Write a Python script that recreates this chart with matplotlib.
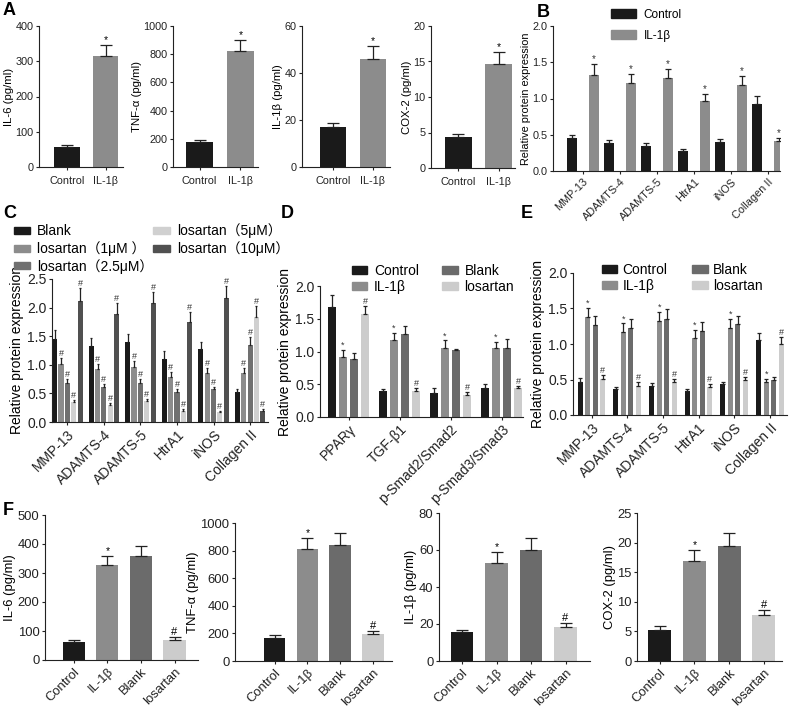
import numpy as np
import matplotlib
matplotlib.use("Agg")
import matplotlib.pyplot as plt
from matplotlib.patches import Patch
from matplotlib.ticker import FormatStrFormatter

plt.rcParams['font.family'] = ['Liberation Sans', 'DejaVu Sans', 'Noto Sans CJK SC']

W, H = 789, 710

# ---- data ----
# A
a_groups = ["Control", "IL-1β"]
a_il6 = [57, 315];      a_il6_err = [6, 30]
a_tnf = [175, 822];     a_tnf_err = [20, 80]
a_il1b = [17, 46];      a_il1b_err = [1.8, 5.5]
a_cox2 = [4.3, 14.7];   a_cox2_err = [0.5, 1.6]

# B
b_cats = ["MMP-13", "ADAMTS-4", "ADAMTS-5", "HtrA1", "iNOS", "Collagen II"]
b_ctrl = [0.45, 0.39, 0.35, 0.28, 0.40, 0.93]
b_ctrl_err = [0.05, 0.04, 0.04, 0.03, 0.04, 0.10]
b_il1b = [1.33, 1.21, 1.28, 0.96, 1.19, 0.42]
b_il1b_err = [0.14, 0.13, 0.13, 0.10, 0.12, 0.04]

# C
c_cats = b_cats
c_labels = ["Blank", "losartan（1μM ）", "losartan（2.5μM）", "losartan（5μM）", "losartan（10μM）"]
c_vals = [
    [1.45, 1.32, 1.39, 1.11, 1.27, 0.53],
    [1.02, 0.92, 0.97, 0.79, 0.86, 0.85],
    [0.68, 0.61, 0.69, 0.52, 0.57, 1.34],
    [0.35, 0.30, 0.36, 0.20, 0.17, 1.83],
    [2.12, 1.88, 2.08, 1.74, 2.17, 0.20],
]
c_errs = [
    [0.15, 0.14, 0.14, 0.13, 0.12, 0.05],
    [0.10, 0.09, 0.10, 0.08, 0.09, 0.09],
    [0.08, 0.06, 0.07, 0.06, 0.05, 0.14],
    [0.04, 0.03, 0.04, 0.02, 0.02, 0.20],
    [0.22, 0.20, 0.20, 0.18, 0.20, 0.03],
]

# D
d_cats = ["PPARγ", "TGF-β1", "p-Smad2/Smad2", "p-Smad3/Smad3"]
d_vals = [
    [1.68, 0.39, 0.37, 0.45],
    [0.92, 1.17, 1.05, 1.05],
    [0.89, 1.26, 1.02, 1.05],
    [1.57, 0.40, 0.34, 0.45],
]
d_errs = [
    [0.18, 0.04, 0.07, 0.06],
    [0.10, 0.12, 0.12, 0.10],
    [0.09, 0.13, 0.02, 0.14],
    [0.12, 0.04, 0.04, 0.02],
]

# E
e_cats = b_cats
e_vals = [
    [0.47, 0.36, 0.41, 0.34, 0.43, 1.05],
    [1.38, 1.17, 1.32, 1.09, 1.23, 0.46],
    [1.27, 1.23, 1.35, 1.19, 1.28, 0.49],
    [0.51, 0.41, 0.46, 0.39, 0.49, 1.00],
]
e_errs = [
    [0.05, 0.04, 0.04, 0.03, 0.04, 0.10],
    [0.13, 0.12, 0.13, 0.11, 0.12, 0.05],
    [0.12, 0.12, 0.14, 0.12, 0.12, 0.05],
    [0.05, 0.05, 0.05, 0.04, 0.05, 0.10],
]

# F
f_groups = ["Control", "IL-1β", "Blank", "losartan"]
f_il6 = [62, 328, 358, 70];       f_il6_err = [8, 32, 35, 8]
f_tnf = [168, 810, 840, 195];     f_tnf_err = [18, 80, 85, 20]
f_il1b = [15.5, 53, 60, 18.5];    f_il1b_err = [1.5, 6, 6.5, 2]
f_cox2 = [5.2, 16.9, 19.5, 7.7];  f_cox2_err = [0.7, 1.9, 2.2, 0.9]

four_labels = ["Control", "IL-1β", "Blank", "losartan"]
c_black = "#1a1a1a"
c_gray = "#8c8c8c"
c_dark = "#6b6b6b"
c_light = "#cccccc"
four_colors = [c_black, c_gray, c_dark, c_light]
c_colors = [c_black, c_gray, "#707070", "#d0d0d0", "#505050"]

fig = plt.figure(figsize=(W / 100, H / 100), dpi=100)


def add_ax(l, t, r, b):
    return fig.add_axes([l / W, 1 - b / H, (r - l) / W, (b - t) / H])


def style(ax, fs):
    for s in ["top", "right"]:
        ax.spines[s].set_visible(False)
    for s in ["left", "bottom"]:
        ax.spines[s].set_linewidth(0.8)
        ax.spines[s].set_color("#222222")
    ax.tick_params(direction="out", length=2.5, width=0.8, pad=1.5,
                   labelsize=fs, colors="#222222")


def bars(ax, x, vals, errs, color, width, mark=None, mfs=6, cap=2):
    x = np.asarray(x, dtype=float)
    vals = np.asarray(vals, dtype=float)
    errs = np.asarray(errs, dtype=float)
    ax.bar(x, vals, width, color=color, zorder=2)
    ax.errorbar(x, vals, yerr=[np.zeros_like(errs), errs], fmt="none",
                ecolor="#222222", elinewidth=0.9, capsize=cap, capthick=0.9, zorder=3)
    if mark:
        for xi, v, e in zip(x, vals, errs):
            ax.text(xi, v + e, mark, ha="center", va="bottom", fontsize=mfs,
                    color="#333333", zorder=4)


def panel_a(box, vals, errs, ymax, step, ylabel, xlim):
    ax = add_ax(*box)
    style(ax, 7.8)
    x = np.arange(2)
    ax.bar(x, vals, 0.66, color=[c_black, c_gray], zorder=2)
    ax.errorbar(x, vals, yerr=[[0, 0], errs], fmt="none", ecolor="#222222",
                elinewidth=0.9, capsize=4, capthick=0.9, zorder=3)
    ax.text(1, vals[1] + errs[1], "*", ha="center", va="bottom", fontsize=7.5)
    ax.set_ylim(0, ymax)
    ax.set_yticks(np.arange(0, ymax + step / 2, step))
    ax.set_xlim(*xlim)
    ax.set_xticks(x)
    ax.set_xticklabels(a_groups)
    ax.tick_params(axis="x", pad=4)
    ax.set_ylabel(ylabel, fontsize=8.2, labelpad=1)


def panel_f(box, vals, errs, ymax, step, ylabel, xlim):
    ax = add_ax(*box)
    style(ax, 9.4)
    x = np.arange(4)
    ax.bar(x, vals, 0.66, color=four_colors, zorder=2)
    ax.errorbar(x, vals, yerr=[[0] * 4, errs], fmt="none", ecolor="#222222",
                elinewidth=0.9, capsize=4, capthick=0.9, zorder=3)
    ax.text(1, vals[1] + errs[1], "*", ha="center", va="bottom", fontsize=7.5)
    ax.text(3, vals[3] + errs[3], "#", ha="center", va="bottom", fontsize=8)
    ax.set_ylim(0, ymax)
    ax.set_yticks(np.arange(0, ymax + step / 2, step))
    ax.set_xlim(*xlim)
    ax.set_xticks(x)
    ax.set_xticklabels(f_groups, rotation=45, ha="right", rotation_mode="anchor")
    ax.set_ylabel(ylabel, fontsize=9.4, labelpad=1)


# ---- A ----
panel_a((39, 26, 123, 167), a_il6, a_il6_err, 400, 100, "IL-6 (pg/ml)", (-0.72, 1.45))
panel_a((173, 26, 258, 167), a_tnf, a_tnf_err, 1000, 200, "TNF-α (pg/ml)", (-0.65, 1.43))
panel_a((302, 26, 390, 167), a_il1b, a_il1b_err, 60, 20, "IL-1β (pg/ml)", (-0.78, 1.43))
panel_a((431, 26, 515, 168), a_cox2, a_cox2_err, 20, 5, "COX-2 (pg/ml)", (-0.67, 1.4))

# ---- B ----
ax = add_ax(553, 26, 780, 171)
style(ax, 7.8)
xb = np.arange(len(b_cats))
bars(ax, xb - 0.3, b_ctrl, b_ctrl_err, c_black, 0.28, cap=2.5)
bars(ax, xb + 0.3, b_il1b, b_il1b_err, c_gray, 0.28, mark="*", mfs=7, cap=2.5)
ax.set_ylim(0, 2.0)
ax.set_yticks(np.arange(0, 2.01, 0.5))
ax.yaxis.set_major_formatter(FormatStrFormatter("%.1f"))
ax.set_xlim(-0.81, 5.32)
ax.set_xticks(xb)
ax.set_xticklabels(b_cats, rotation=45, ha="right", rotation_mode="anchor")
ax.set_ylabel("Relative protein expression", fontsize=7.8, labelpad=1)
fig.legend(handles=[Patch(color=c_black, label="Control"), Patch(color=c_gray, label="IL-1β")],
           loc="upper left", bbox_to_anchor=(606 / W, 1 - 4 / H), frameon=False,
           fontsize=8.5, handlelength=2.1, handleheight=0.7, labelspacing=0.75,
           handletextpad=0.7, borderaxespad=0)

# ---- C ----
ax = add_ax(52, 279, 268, 422)
style(ax, 10)
xc = np.arange(len(c_cats))
for i in range(5):
    bars(ax, xc + (i - 2) * 0.175, c_vals[i], c_errs[i], c_colors[i], 0.14,
         mark=None if i == 0 else "#", mfs=6.5, cap=1)
ax.set_ylim(0, 2.5)
ax.set_yticks(np.arange(0, 2.51, 0.5))
ax.yaxis.set_major_formatter(FormatStrFormatter("%.1f"))
ax.set_xlim(-0.42, 5.49)
ax.set_xticks(xc)
ax.set_xticklabels(c_cats, rotation=45, ha="right", rotation_mode="anchor")
ax.set_ylabel("Relative protein expression", fontsize=10, labelpad=2)
fig.legend(handles=[Patch(color=c, label=l) for c, l in zip(c_colors, c_labels)],
           ncol=2, loc="upper left", bbox_to_anchor=(8 / W, 1 - 218 / H), frameon=False,
           fontsize=10, handlelength=1.2, handleheight=0.4, labelspacing=0.2,
           columnspacing=0.0, handletextpad=0.5, borderaxespad=0)

# ---- D ----
ax = add_ax(320, 286, 523, 417)
style(ax, 10)
xd = np.arange(len(d_cats))
d_marks = [None, "*", None, "#"]
for i in range(4):
    bars(ax, xd + (i - 1.5) * 0.216, d_vals[i], d_errs[i], four_colors[i], 0.15,
         mark=d_marks[i], mfs=6.5, cap=1.5)
ax.set_ylim(0, 2.0)
ax.set_yticks(np.arange(0, 2.01, 0.5))
ax.yaxis.set_major_formatter(FormatStrFormatter("%.1f"))
ax.set_xlim(-0.56, 3.42)
ax.set_xticks(xd)
ax.set_xticklabels(d_cats, rotation=45, ha="right", rotation_mode="anchor")
ax.set_ylabel("Relative protein expression", fontsize=10, labelpad=2)
fig.legend(handles=[Patch(color=c, label=l) for c, l in zip(four_colors, four_labels)],
           ncol=2, loc="upper left", bbox_to_anchor=(346 / W, 1 - 258 / H), frameon=False,
           fontsize=10, handlelength=1.1, handleheight=0.5, labelspacing=0.15,
           columnspacing=1.7, handletextpad=0.5, borderaxespad=0)

# ---- E ----
ax = add_ax(573, 273, 787, 415)
style(ax, 10)
xe = np.arange(len(e_cats))
for i in range(4):
    bars(ax, xe + (i - 1.5) * 0.21, e_vals[i], e_errs[i], four_colors[i], 0.14,
         mark=d_marks[i], mfs=6.5, cap=1.5)
ax.set_ylim(0, 2.0)
ax.set_yticks(np.arange(0, 2.01, 0.5))
ax.yaxis.set_major_formatter(FormatStrFormatter("%.1f"))
ax.set_xlim(-0.52, 5.48)
ax.set_xticks(xe)
ax.set_xticklabels(e_cats, rotation=45, ha="right", rotation_mode="anchor")
ax.set_ylabel("Relative protein expression", fontsize=10, labelpad=2)
fig.legend(handles=[Patch(color=c, label=l) for c, l in zip(four_colors, four_labels)],
           ncol=2, loc="upper left", bbox_to_anchor=(596 / W, 1 - 257 / H), frameon=False,
           fontsize=10, handlelength=1.1, handleheight=0.5, labelspacing=0.15,
           columnspacing=1.8, handletextpad=0.4, borderaxespad=0)

# ---- F ----
panel_f((45, 515, 198, 660), f_il6, f_il6_err, 500, 100, "IL-6 (pg/ml)", (-0.86, 3.7))
panel_f((235, 523, 392, 661), f_tnf, f_tnf_err, 1000, 200, "TNF-α (pg/ml)", (-1.21, 3.58))
panel_f((439, 513, 590, 661), f_il1b, f_il1b_err, 80, 20, "IL-1β (pg/ml)", (-0.67, 3.71))
panel_f((637, 513, 782, 661), f_cox2, f_cox2_err, 25, 5, "COX-2 (pg/ml)", (-0.65, 3.52))

# panel letters
for letter, (px, py) in {"A": (3, 2), "B": (537, 4), "C": (3, 205), "D": (281, 205),
                         "E": (521, 205), "F": (3, 502)}.items():
    fig.text(px / W, 1 - py / H, letter, fontsize=13, fontweight="bold", va="top", ha="left")

fig.savefig("out.png", dpi=100)
